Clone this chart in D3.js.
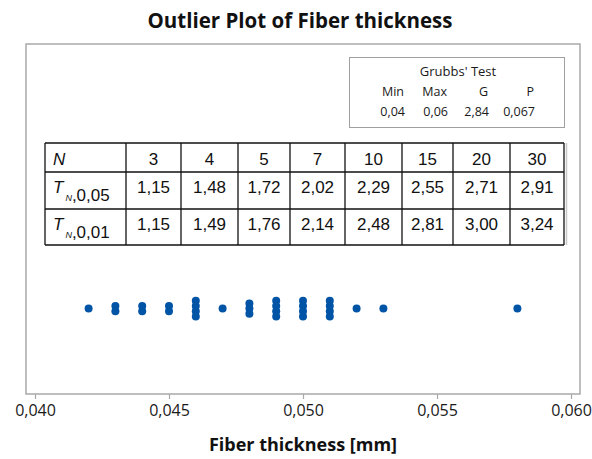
<!DOCTYPE html>
<html><head><meta charset="utf-8">
<script src="https://cdn.jsdelivr.net/npm/d3@7"></script>
<style>body{margin:0;background:#fff}svg{display:block}</style>
</head><body>
<svg id="c" width="592" height="459"></svg>
<script>
// ---- data ----
const fiberThickness = [0.042,
  0.043,0.043, 0.044,0.044, 0.045,0.045,
  0.046,0.046,0.046,0.046, 0.047,
  0.048,0.048,0.048, 0.049,0.049,0.049,0.049,
  0.050,0.050,0.050,0.050, 0.051,0.051,0.051,0.051,
  0.052, 0.053, 0.058];
const xTicks = [0.040, 0.045, 0.050, 0.055, 0.060];
const grubbsHeaders = ["Min","Max","G","P"];
const grubbsValues = ["0,04","0,06","2,84","0,067"];
const tableN = ["3","4","5","7","10","15","20","30"];
const tableT005 = ["1,15","1,48","1,72","2,02","2,29","2,55","2,71","2,91"];
const tableT001 = ["1,15","1,49","1,76","2,14","2,48","2,81","3,00","3,24"];

const svg = d3.select("#c");
const locale = d3.formatLocale({decimal:",", thousands:".", grouping:[3], currency:["",""]});
const fmt = locale.format(".3f");

const frame = {l:26, t:44, r:580, b:394};
const x = d3.scaleLinear().domain([0.040,0.060]).range([35,571]);

// title
svg.append("text").attr("x",300).attr("y",28).attr("text-anchor","middle")
  .attr("font-family","Open Sans").attr("font-weight","bold").attr("font-size",20.5)
  .attr("fill","#111").text("Outlier Plot of Fiber thickness");

// frame
svg.append("rect").attr("x",frame.l).attr("y",frame.t)
  .attr("width",frame.r-frame.l).attr("height",frame.b-frame.t)
  .attr("fill","none").attr("stroke","#a9a9a9").attr("stroke-width",1.5);

// axis
const ax = svg.append("g").attr("transform",`translate(0,${frame.b})`)
  .call(d3.axisBottom(x).tickValues(xTicks).tickSize(5).tickPadding(6).tickFormat(fmt));
ax.select(".domain").remove();
ax.selectAll("line").attr("stroke","#a9a9a9").attr("stroke-width",1.2);
ax.selectAll("text").attr("font-family","Open Sans").attr("font-size",16).attr("fill","#1a1a1a");

svg.append("text").attr("x",303).attr("y",451).attr("text-anchor","middle")
  .attr("font-family","Open Sans").attr("font-weight","bold").attr("font-size",18)
  .attr("fill","#111").text("Fiber thickness [mm]");

// dots (stacked)
const counts = d3.rollup(fiberThickness, v=>v.length, d=>d.toFixed(3));
const seen = new Map();
const yc = 308.6, step = 5.2;
const pts = fiberThickness.map(v=>{
  const k = v.toFixed(3);
  const n = counts.get(k);
  const i = seen.get(k)||0; seen.set(k,i+1);
  return {v, dy:(i-(n-1)/2)*step};
});
svg.append("g").selectAll("circle").data(pts).join("circle")
  .attr("cx",d=>x(d.v)).attr("cy",d=>yc+d.dy).attr("r",4)
  .attr("fill","#0054a6");

// Grubbs box
svg.append("rect").attr("x",349.5).attr("y",57.5).attr("width",215).attr("height",70)
  .attr("fill","#fff").attr("stroke","#a0a0a0").attr("stroke-width",1);
const g = svg.append("g");
g.append("text").attr("x",458).attr("y",76).attr("text-anchor","middle")
  .attr("font-family","Open Sans").attr("font-size",13).attr("fill","#1a1a1a").text("Grubbs' Test");
const colRight = [404, 447, 488, 534];
grubbsHeaders.forEach((h,i)=>{
  g.append("text").attr("x",colRight[i]).attr("y",96).attr("text-anchor","end")
   .attr("font-family","Open Sans").attr("font-size",12.5).attr("fill","#1a1a1a").text(h);
  g.append("text").attr("x",colRight[i]+1).attr("y",116).attr("text-anchor","end")
   .attr("font-family","Open Sans").attr("font-size",12.5).attr("fill","#1a1a1a").text(grubbsValues[i]);
});

// table
const colX = [45,126,181,238,290,345,402,453,510,564];
const rowY = [143,172,209,245];
const tg = svg.append("g");
tg.append("rect").attr("x",colX[0]).attr("y",rowY[0]).attr("width",colX[9]-colX[0])
  .attr("height",rowY[3]-rowY[0]).attr("fill","#fff");
// faint continuation line
tg.append("line").attr("x1",566.5).attr("x2",566.5).attr("y1",rowY[0]).attr("y2",rowY[3])
  .attr("stroke","#c8c8c8").attr("stroke-width",1.5);
rowY.forEach(y=>tg.append("line").attr("x1",colX[0]).attr("x2",colX[9]).attr("y1",y).attr("y2",y)
  .attr("stroke","#111").attr("stroke-width",1.3));
colX.forEach(cx=>tg.append("line").attr("x1",cx).attr("x2",cx).attr("y1",rowY[0]).attr("y2",rowY[3])
  .attr("stroke","#111").attr("stroke-width",1.3));
const tf = "Liberation Sans";
const fs = 17;
const rows = [tableN, tableT005, tableT001];
const baselines = [165, 193, 230];
rows.forEach((r,ri)=>{
  r.forEach((t,ci)=>{
    tg.append("text").attr("x",(colX[ci+1]+colX[ci+2])/2).attr("y",baselines[ri])
      .attr("text-anchor","middle").attr("font-family",tf).attr("font-size",fs)
      .attr("fill","#111").text(t);
  });
});
// row headers
tg.append("text").attr("x",53).attr("y",165).attr("font-family",tf).attr("font-size",fs)
  .attr("font-style","italic").attr("fill","#111").text("N");
[["0,05",193,201],["0,01",230,238]].forEach(([lvl,tb,rb])=>{
  const t = tg.append("text").attr("x",53).attr("y",rb).attr("font-family",tf).attr("font-size",fs).attr("fill","#111");
  t.append("tspan").attr("font-style","italic").attr("y",tb).text("T");
  t.append("tspan").attr("font-style","italic").attr("font-size",9).attr("y",rb).attr("dx",2).text("N");
  t.append("tspan").attr("y",rb).text(","+lvl);
});
</script>
</body></html>
